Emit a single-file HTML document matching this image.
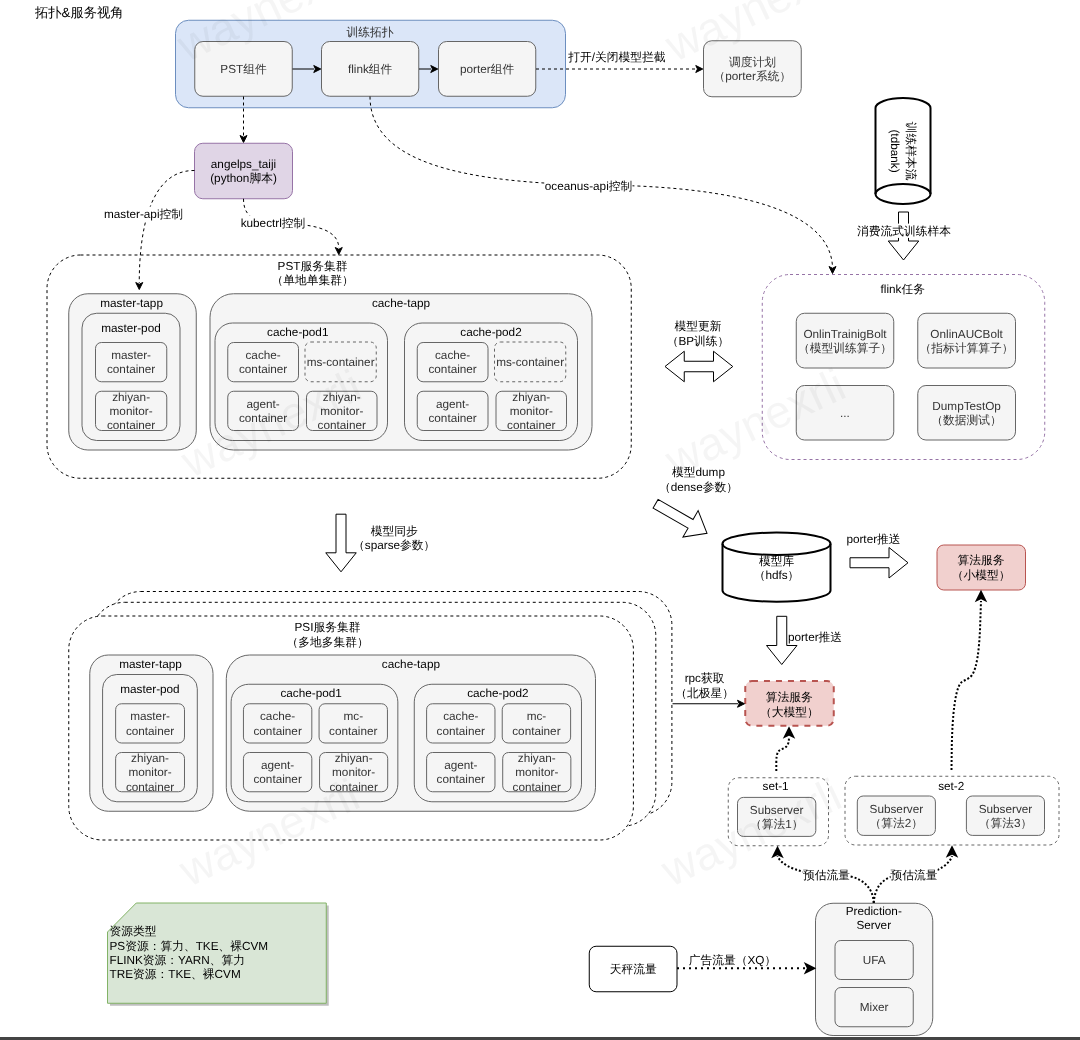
<!DOCTYPE html>
<html lang="zh">
<head>
<meta charset="utf-8">
<title>拓扑&amp;服务视角</title>
<style>
html,body{margin:0;padding:0;background:#ffffff;}
body{width:1080px;height:1040px;overflow:hidden;font-family:"Liberation Sans",sans-serif;}
svg{display:block;font-family:"Liberation Sans",sans-serif;will-change:transform;}
svg text{white-space:pre;text-rendering:geometricPrecision;}
</style>
</head>
<body>
<svg width="1080" height="1040" viewBox="0 0 1080 1040">
<text x="35" y="17" font-size="13.3" fill="#000">拓扑&amp;服务视角</text>
<rect x="175.50" y="20.25" width="390.00" height="87.50" rx="13.12" ry="13.12" fill="#dbe6f8" stroke="#6c8ebf" stroke-width="1"/>
<text x="370.00" y="35.67" font-size="11.75" fill="#333" text-anchor="middle">训练拓扑</text>
<rect x="194.75" y="41.50" width="97.50" height="54.75" rx="8.21" ry="8.21" fill="#f5f5f5" stroke="#666666" stroke-width="1"/>
<text x="243.50" y="73.05" font-size="11.75" fill="#333333" text-anchor="middle">PST组件</text>
<rect x="321.50" y="41.50" width="97.25" height="54.75" rx="8.21" ry="8.21" fill="#f5f5f5" stroke="#666666" stroke-width="1"/>
<text x="370.12" y="73.05" font-size="11.75" fill="#333333" text-anchor="middle">flink组件</text>
<rect x="438.50" y="41.50" width="97.25" height="54.75" rx="8.21" ry="8.21" fill="#f5f5f5" stroke="#666666" stroke-width="1"/>
<text x="487.12" y="73.05" font-size="11.75" fill="#333333" text-anchor="middle">porter组件</text>
<rect x="703.50" y="40.75" width="97.75" height="56.00" rx="8.40" ry="8.40" fill="#f5f5f5" stroke="#666666" stroke-width="1"/>
<text x="752.38" y="65.77" font-size="11.75" fill="#333333" text-anchor="middle">调度计划</text>
<text x="752.38" y="80.07" font-size="11.75" fill="#333333" text-anchor="middle">（porter系统）</text>
<path d="M292.5,69 L314,69" fill="none" stroke="#000" stroke-width="1"/>
<path d="M320.75,69.00 L313.75,72.50 L315.50,69.00 L313.75,65.50 Z" fill="#000" stroke="#000" stroke-width="1" stroke-linejoin="miter"/>
<path d="M419,69 L431,69" fill="none" stroke="#000" stroke-width="1"/>
<path d="M437.75,69.00 L430.75,72.50 L432.50,69.00 L430.75,65.50 Z" fill="#000" stroke="#000" stroke-width="1" stroke-linejoin="miter"/>
<path d="M536,69 L696,69" fill="none" stroke="#000" stroke-width="1" stroke-dasharray="3 3"/>
<path d="M702.75,69.00 L695.75,72.50 L697.50,69.00 L695.75,65.50 Z" fill="#000" stroke="#000" stroke-width="1" stroke-linejoin="miter"/>
<text x="617.00" y="61.17" font-size="11.75" fill="#000" text-anchor="middle">打开/关闭模型拦截</text>
<path d="M243.5,96.5 L243.5,136" fill="none" stroke="#000" stroke-width="1" stroke-dasharray="3 3"/>
<path d="M243.50,142.50 L240.00,135.50 L243.50,137.25 L247.00,135.50 Z" fill="#000" stroke="#000" stroke-width="1" stroke-linejoin="miter"/>
<rect x="194.50" y="143.25" width="98.00" height="55.50" rx="8.32" ry="8.32" fill="#e0d5e6" stroke="#9673a6" stroke-width="1"/>
<text x="243.50" y="168.02" font-size="11.75" fill="#000" text-anchor="middle">angelps_taiji</text>
<text x="243.50" y="182.32" font-size="11.75" fill="#000" text-anchor="middle">(python脚本)</text>
<path d="M194.5,170.5 C150,170 139.25,230 139.25,283" fill="none" stroke="#000" stroke-width="1" stroke-dasharray="3 3"/>
<path d="M139.25,289.50 L135.75,282.50 L139.25,284.25 L142.75,282.50 Z" fill="#000" stroke="#000" stroke-width="1" stroke-linejoin="miter"/>
<rect x="104.00" y="206.65" width="79.00" height="14.30" fill="#ffffff"/>
<text x="143.50" y="217.97" font-size="11.75" fill="#000" text-anchor="middle">master-api控制</text>
<path d="M243.5,198.75 C243.5,222 262,223 291,224 C320,225 338.75,232 338.75,248" fill="none" stroke="#000" stroke-width="1" stroke-dasharray="3 3"/>
<path d="M338.75,254.50 L335.25,247.50 L338.75,249.25 L342.25,247.50 Z" fill="#000" stroke="#000" stroke-width="1" stroke-linejoin="miter"/>
<rect x="241.00" y="215.35" width="64.00" height="14.30" fill="#ffffff"/>
<text x="273.00" y="226.67" font-size="11.75" fill="#000" text-anchor="middle">kubectrl控制</text>
<path d="M370,96.5 C370,165 470,182 590,185 C700,185 830,200 832.5,267" fill="none" stroke="#000" stroke-width="1" stroke-dasharray="3 3"/>
<path d="M832.50,273.50 L829.00,266.50 L832.50,268.25 L836.00,266.50 Z" fill="#000" stroke="#000" stroke-width="1" stroke-linejoin="miter"/>
<rect x="544.50" y="179.10" width="88.00" height="14.30" fill="#ffffff"/>
<text x="588.50" y="190.42" font-size="11.75" fill="#000" text-anchor="middle">oceanus-api控制</text>
<path d="M875.5,108 A27.5,10 0 0 1 930.5,108 L930.5,194 A27.5,10 0 0 1 875.5,194 Z" fill="#fff" stroke="#000" stroke-width="2"/>
<path d="M875.5,194 A27.5,10 0 0 1 930.5,194" fill="none" stroke="#000" stroke-width="2"/>
<text font-size="11.75" fill="#000" text-anchor="middle" transform="translate(906.5,151) rotate(90)" x="0" y="0">训练样本流</text>
<text font-size="11.75" fill="#000" text-anchor="middle" transform="translate(890.5,151) rotate(90)" x="0" y="0">(tdbank)</text>
<path d="M-24.00,-5.00 L5.00,-5.00 L5.00,-15.25 L24.00,0.00 L5.00,15.25 L5.00,5.00 L-24.00,5.00 Z" transform="translate(903.50,236.00) rotate(90)" fill="#fff" stroke="#000" stroke-width="1" stroke-linejoin="miter"/>
<rect x="857.50" y="223.60" width="93.00" height="14.30" fill="#ffffff"/>
<text x="904.00" y="234.92" font-size="11.75" fill="#000" text-anchor="middle">消费流式训练样本</text>
<rect x="762.25" y="274.50" width="282.50" height="185.00" rx="27.75" ry="27.75" fill="#fff" stroke="#9673a6" stroke-width="1" stroke-dasharray="3 3"/>
<text x="902.75" y="293.42" font-size="11.75" fill="#000" text-anchor="middle">flink任务</text>
<rect x="796.25" y="313.25" width="97.50" height="54.75" rx="8.21" ry="8.21" fill="#f5f5f5" stroke="#666666" stroke-width="1"/>
<text x="845.00" y="337.65" font-size="11.75" fill="#333333" text-anchor="middle">OnlinTrainigBolt</text>
<text x="845.00" y="351.95" font-size="11.75" fill="#333333" text-anchor="middle">（模型训练算子）</text>
<rect x="917.75" y="313.25" width="97.75" height="54.75" rx="8.21" ry="8.21" fill="#f5f5f5" stroke="#666666" stroke-width="1"/>
<text x="966.62" y="337.65" font-size="11.75" fill="#333333" text-anchor="middle">OnlinAUCBolt</text>
<text x="966.62" y="351.95" font-size="11.75" fill="#333333" text-anchor="middle">（指标计算算子）</text>
<rect x="796.25" y="385.50" width="97.50" height="54.50" rx="8.17" ry="8.17" fill="#f5f5f5" stroke="#666666" stroke-width="1"/>
<text x="845.00" y="416.92" font-size="11.75" fill="#333333" text-anchor="middle">...</text>
<rect x="917.75" y="385.50" width="97.75" height="54.50" rx="8.17" ry="8.17" fill="#f5f5f5" stroke="#666666" stroke-width="1"/>
<text x="966.62" y="409.77" font-size="11.75" fill="#333333" text-anchor="middle">DumpTestOp</text>
<text x="966.62" y="424.07" font-size="11.75" fill="#333333" text-anchor="middle">（数据测试）</text>
<rect x="47.00" y="255.00" width="584.25" height="223.25" rx="33.49" ry="33.49" fill="none" stroke="#000" stroke-width="1" stroke-dasharray="3 3"/>
<text x="312.50" y="269.82" font-size="11.75" fill="#000" text-anchor="middle">PST服务集群</text>
<text x="312.50" y="284.12" font-size="11.75" fill="#000" text-anchor="middle">（单地单集群）</text>
<rect x="68.75" y="293.75" width="127.50" height="156.25" rx="19.12" ry="19.12" fill="#f5f5f5" stroke="#666666" stroke-width="1"/>
<text x="131.60" y="307.42" font-size="11.75" fill="#000" text-anchor="middle">master-tapp</text>
<rect x="82.00" y="313.25" width="98.00" height="127.25" rx="14.70" ry="14.70" fill="#f5f5f5" stroke="#666666" stroke-width="1"/>
<text x="131.00" y="332.42" font-size="11.75" fill="#000" text-anchor="middle">master-pod</text>
<rect x="95.50" y="342.50" width="71.25" height="39.25" rx="5.89" ry="5.89" fill="#f5f5f5" stroke="#666666" stroke-width="1"/>
<text x="131.12" y="359.15" font-size="11.75" fill="#333333" text-anchor="middle">master-</text>
<text x="131.12" y="373.45" font-size="11.75" fill="#333333" text-anchor="middle">container</text>
<rect x="95.50" y="391.25" width="71.25" height="39.25" rx="5.89" ry="5.89" fill="#f5f5f5" stroke="#666666" stroke-width="1"/>
<text x="131.12" y="400.75" font-size="11.75" fill="#333333" text-anchor="middle">zhiyan-</text>
<text x="131.12" y="415.05" font-size="11.75" fill="#333333" text-anchor="middle">monitor-</text>
<text x="131.12" y="429.35" font-size="11.75" fill="#333333" text-anchor="middle">container</text>
<rect x="210.00" y="293.75" width="382.00" height="156.25" rx="23.44" ry="23.44" fill="#f5f5f5" stroke="#666666" stroke-width="1"/>
<text x="401.00" y="307.42" font-size="11.75" fill="#000" text-anchor="middle">cache-tapp</text>
<rect x="215.00" y="323.00" width="172.50" height="117.50" rx="17.62" ry="17.62" fill="#f5f5f5" stroke="#666666" stroke-width="1"/>
<text x="297.75" y="336.17" font-size="11.75" fill="#000" text-anchor="middle">cache-pod1</text>
<rect x="227.75" y="342.50" width="70.75" height="39.25" rx="5.89" ry="5.89" fill="#f5f5f5" stroke="#666666" stroke-width="1"/>
<text x="263.12" y="359.15" font-size="11.75" fill="#333333" text-anchor="middle">cache-</text>
<text x="263.12" y="373.45" font-size="11.75" fill="#333333" text-anchor="middle">container</text>
<rect x="227.75" y="391.25" width="70.75" height="39.25" rx="5.89" ry="5.89" fill="#f5f5f5" stroke="#666666" stroke-width="1"/>
<text x="263.12" y="407.90" font-size="11.75" fill="#333333" text-anchor="middle">agent-</text>
<text x="263.12" y="422.20" font-size="11.75" fill="#333333" text-anchor="middle">container</text>
<rect x="305.00" y="342.00" width="71.25" height="39.75" rx="5.96" ry="5.96" fill="#f5f5f5" stroke="#666666" stroke-width="1" stroke-dasharray="3 3"/>
<text x="340.62" y="366.05" font-size="11.75" fill="#333333" text-anchor="middle">ms-container</text>
<rect x="306.50" y="391.25" width="70.50" height="39.25" rx="5.89" ry="5.89" fill="#f5f5f5" stroke="#666666" stroke-width="1"/>
<text x="341.75" y="400.75" font-size="11.75" fill="#333333" text-anchor="middle">zhiyan-</text>
<text x="341.75" y="415.05" font-size="11.75" fill="#333333" text-anchor="middle">monitor-</text>
<text x="341.75" y="429.35" font-size="11.75" fill="#333333" text-anchor="middle">container</text>
<rect x="404.50" y="323.00" width="173.00" height="117.50" rx="17.62" ry="17.62" fill="#f5f5f5" stroke="#666666" stroke-width="1"/>
<text x="491.00" y="336.17" font-size="11.75" fill="#000" text-anchor="middle">cache-pod2</text>
<rect x="417.25" y="342.50" width="70.75" height="39.25" rx="5.89" ry="5.89" fill="#f5f5f5" stroke="#666666" stroke-width="1"/>
<text x="452.62" y="359.15" font-size="11.75" fill="#333333" text-anchor="middle">cache-</text>
<text x="452.62" y="373.45" font-size="11.75" fill="#333333" text-anchor="middle">container</text>
<rect x="417.25" y="391.25" width="70.75" height="39.25" rx="5.89" ry="5.89" fill="#f5f5f5" stroke="#666666" stroke-width="1"/>
<text x="452.62" y="407.90" font-size="11.75" fill="#333333" text-anchor="middle">agent-</text>
<text x="452.62" y="422.20" font-size="11.75" fill="#333333" text-anchor="middle">container</text>
<rect x="494.50" y="342.00" width="71.25" height="39.75" rx="5.96" ry="5.96" fill="#f5f5f5" stroke="#666666" stroke-width="1" stroke-dasharray="3 3"/>
<text x="530.12" y="366.05" font-size="11.75" fill="#333333" text-anchor="middle">ms-container</text>
<rect x="496.00" y="391.25" width="70.50" height="39.25" rx="5.89" ry="5.89" fill="#f5f5f5" stroke="#666666" stroke-width="1"/>
<text x="531.25" y="400.75" font-size="11.75" fill="#333333" text-anchor="middle">zhiyan-</text>
<text x="531.25" y="415.05" font-size="11.75" fill="#333333" text-anchor="middle">monitor-</text>
<text x="531.25" y="429.35" font-size="11.75" fill="#333333" text-anchor="middle">container</text>
<path d="M665,366.5 L684.25,351.25 L684.25,361.25 L713.5,361.25 L713.5,351.25 L732.75,366.5 L713.5,381.75 L713.5,371.75 L684.25,371.75 L684.25,381.75 Z" fill="#fff" stroke="#000" stroke-width="1"/>
<text x="698.00" y="330.22" font-size="11.75" fill="#000" text-anchor="middle">模型更新</text>
<text x="698.00" y="344.52" font-size="11.75" fill="#000" text-anchor="middle">（BP训练）</text>
<text x="698.50" y="476.32" font-size="11.75" fill="#000" text-anchor="middle">模型dump</text>
<text x="698.50" y="490.62" font-size="11.75" fill="#000" text-anchor="middle">（dense参数）</text>
<path d="M-29.65,-5.00 L10.65,-5.00 L10.65,-15.25 L29.65,0.00 L10.65,15.25 L10.65,5.00 L-29.65,5.00 Z" transform="translate(681.30,518.50) rotate(29.85)" fill="#fff" stroke="#000" stroke-width="1" stroke-linejoin="miter"/>
<path d="M-28.80,-5.00 L9.80,-5.00 L9.80,-15.25 L28.80,0.00 L9.80,15.25 L9.80,5.00 L-28.80,5.00 Z" transform="translate(341.00,543.00) rotate(90)" fill="#fff" stroke="#000" stroke-width="1" stroke-linejoin="miter"/>
<text x="394.20" y="534.92" font-size="11.75" fill="#000" text-anchor="middle">模型同步</text>
<text x="394.20" y="549.22" font-size="11.75" fill="#000" text-anchor="middle">（sparse参数）</text>
<rect x="107.25" y="591.50" width="564.65" height="224.00" rx="33.60" ry="33.60" fill="#fff" stroke="#000" stroke-width="1" stroke-dasharray="3 3"/>
<rect x="91.15" y="602.30" width="564.65" height="224.00" rx="33.60" ry="33.60" fill="#fff" stroke="#000" stroke-width="1" stroke-dasharray="3 3"/>
<rect x="68.75" y="616.00" width="564.65" height="224.00" rx="33.60" ry="33.60" fill="#fff" stroke="#000" stroke-width="1" stroke-dasharray="3 3"/>
<text x="327.50" y="631.22" font-size="11.75" fill="#000" text-anchor="middle">PSI服务集群</text>
<text x="327.50" y="645.52" font-size="11.75" fill="#000" text-anchor="middle">（多地多集群）</text>
<rect x="89.77" y="655.00" width="123.23" height="156.25" rx="18.48" ry="18.48" fill="#f5f5f5" stroke="#666666" stroke-width="1"/>
<text x="150.52" y="667.67" font-size="11.75" fill="#000" text-anchor="middle">master-tapp</text>
<rect x="102.58" y="674.50" width="94.72" height="127.25" rx="14.21" ry="14.21" fill="#f5f5f5" stroke="#666666" stroke-width="1"/>
<text x="149.94" y="692.67" font-size="11.75" fill="#000" text-anchor="middle">master-pod</text>
<rect x="115.63" y="703.75" width="68.86" height="39.25" rx="5.89" ry="5.89" fill="#f5f5f5" stroke="#666666" stroke-width="1"/>
<text x="150.06" y="720.40" font-size="11.75" fill="#333333" text-anchor="middle">master-</text>
<text x="150.06" y="734.70" font-size="11.75" fill="#333333" text-anchor="middle">container</text>
<rect x="115.63" y="752.50" width="68.86" height="39.25" rx="5.89" ry="5.89" fill="#f5f5f5" stroke="#666666" stroke-width="1"/>
<text x="150.06" y="762.00" font-size="11.75" fill="#333333" text-anchor="middle">zhiyan-</text>
<text x="150.06" y="776.30" font-size="11.75" fill="#333333" text-anchor="middle">monitor-</text>
<text x="150.06" y="790.60" font-size="11.75" fill="#333333" text-anchor="middle">container</text>
<rect x="226.29" y="655.00" width="369.20" height="156.25" rx="23.44" ry="23.44" fill="#f5f5f5" stroke="#666666" stroke-width="1"/>
<text x="410.89" y="667.67" font-size="11.75" fill="#000" text-anchor="middle">cache-tapp</text>
<rect x="231.12" y="684.25" width="166.72" height="117.50" rx="17.62" ry="17.62" fill="#f5f5f5" stroke="#666666" stroke-width="1"/>
<text x="311.10" y="697.42" font-size="11.75" fill="#000" text-anchor="middle">cache-pod1</text>
<rect x="243.44" y="703.75" width="68.38" height="39.25" rx="5.89" ry="5.89" fill="#f5f5f5" stroke="#666666" stroke-width="1"/>
<text x="277.63" y="720.40" font-size="11.75" fill="#333333" text-anchor="middle">cache-</text>
<text x="277.63" y="734.70" font-size="11.75" fill="#333333" text-anchor="middle">container</text>
<rect x="243.44" y="752.50" width="68.38" height="39.25" rx="5.89" ry="5.89" fill="#f5f5f5" stroke="#666666" stroke-width="1"/>
<text x="277.63" y="769.15" font-size="11.75" fill="#333333" text-anchor="middle">agent-</text>
<text x="277.63" y="783.45" font-size="11.75" fill="#333333" text-anchor="middle">container</text>
<rect x="319.07" y="703.75" width="68.38" height="39.25" rx="5.89" ry="5.89" fill="#f5f5f5" stroke="#666666" stroke-width="1"/>
<text x="353.26" y="720.40" font-size="11.75" fill="#333333" text-anchor="middle">mc-</text>
<text x="353.26" y="734.70" font-size="11.75" fill="#333333" text-anchor="middle">container</text>
<rect x="319.56" y="752.50" width="68.14" height="39.25" rx="5.89" ry="5.89" fill="#f5f5f5" stroke="#666666" stroke-width="1"/>
<text x="353.63" y="762.00" font-size="11.75" fill="#333333" text-anchor="middle">zhiyan-</text>
<text x="353.63" y="776.30" font-size="11.75" fill="#333333" text-anchor="middle">monitor-</text>
<text x="353.63" y="790.60" font-size="11.75" fill="#333333" text-anchor="middle">container</text>
<rect x="414.27" y="684.25" width="167.20" height="117.50" rx="17.62" ry="17.62" fill="#f5f5f5" stroke="#666666" stroke-width="1"/>
<text x="497.88" y="697.42" font-size="11.75" fill="#000" text-anchor="middle">cache-pod2</text>
<rect x="426.60" y="703.75" width="68.38" height="39.25" rx="5.89" ry="5.89" fill="#f5f5f5" stroke="#666666" stroke-width="1"/>
<text x="460.79" y="720.40" font-size="11.75" fill="#333333" text-anchor="middle">cache-</text>
<text x="460.79" y="734.70" font-size="11.75" fill="#333333" text-anchor="middle">container</text>
<rect x="426.60" y="752.50" width="68.38" height="39.25" rx="5.89" ry="5.89" fill="#f5f5f5" stroke="#666666" stroke-width="1"/>
<text x="460.79" y="769.15" font-size="11.75" fill="#333333" text-anchor="middle">agent-</text>
<text x="460.79" y="783.45" font-size="11.75" fill="#333333" text-anchor="middle">container</text>
<rect x="502.23" y="703.75" width="68.38" height="39.25" rx="5.89" ry="5.89" fill="#f5f5f5" stroke="#666666" stroke-width="1"/>
<text x="536.42" y="720.40" font-size="11.75" fill="#333333" text-anchor="middle">mc-</text>
<text x="536.42" y="734.70" font-size="11.75" fill="#333333" text-anchor="middle">container</text>
<rect x="502.71" y="752.50" width="68.14" height="39.25" rx="5.89" ry="5.89" fill="#f5f5f5" stroke="#666666" stroke-width="1"/>
<text x="536.78" y="762.00" font-size="11.75" fill="#333333" text-anchor="middle">zhiyan-</text>
<text x="536.78" y="776.30" font-size="11.75" fill="#333333" text-anchor="middle">monitor-</text>
<text x="536.78" y="790.60" font-size="11.75" fill="#333333" text-anchor="middle">container</text>
<path d="M722.5,543.75 A54.0,11.25 0 0 1 830.5,543.75 L830.5,590.5 A54.0,11.25 0 0 1 722.5,590.5 Z" fill="#fff" stroke="#000" stroke-width="2"/>
<path d="M722.5,543.75 A54,11.25 0 0 0 830.5,543.75" fill="none" stroke="#000" stroke-width="2"/>
<text x="776.50" y="564.52" font-size="11.75" fill="#000" text-anchor="middle">模型库</text>
<text x="776.50" y="578.82" font-size="11.75" fill="#000" text-anchor="middle">（hdfs）</text>
<path d="M-29.00,-5.00 L10.00,-5.00 L10.00,-15.25 L29.00,0.00 L10.00,15.25 L10.00,5.00 L-29.00,5.00 Z" transform="translate(879.00,562.75) rotate(0)" fill="#fff" stroke="#000" stroke-width="1" stroke-linejoin="miter"/>
<text x="873.50" y="543.42" font-size="11.75" fill="#000" text-anchor="middle">porter推送</text>
<path d="M-24.10,-5.00 L5.10,-5.00 L5.10,-15.25 L24.10,0.00 L5.10,15.25 L5.10,5.00 L-24.10,5.00 Z" transform="translate(781.75,640.40) rotate(90)" fill="#fff" stroke="#000" stroke-width="1" stroke-linejoin="miter"/>
<rect x="788.50" y="629.60" width="53.00" height="14.30" fill="#ffffff"/>
<text x="815.00" y="640.92" font-size="11.75" fill="#000" text-anchor="middle">porter推送</text>
<rect x="937.00" y="545.00" width="88.50" height="45.00" rx="6.75" ry="6.75" fill="#f1d0ce" stroke="#b85450" stroke-width="1"/>
<text x="981.00" y="564.32" font-size="11.75" fill="#000" text-anchor="middle">算法服务</text>
<text x="981.00" y="578.62" font-size="11.75" fill="#000" text-anchor="middle">（小模型）</text>
<rect x="745.25" y="681.00" width="88.50" height="44.75" rx="6.71" ry="6.71" fill="#f1d0ce" stroke="#b85450" stroke-width="2" stroke-dasharray="6 6"/>
<text x="789.25" y="701.22" font-size="11.75" fill="#000" text-anchor="middle">算法服务</text>
<text x="789.25" y="715.52" font-size="11.75" fill="#000" text-anchor="middle">（大模型）</text>
<path d="M672.5,703.75 L738,703.75" fill="none" stroke="#000" stroke-width="1"/>
<path d="M744.50,703.75 L737.50,707.25 L739.25,703.75 L737.50,700.25 Z" fill="#000" stroke="#000" stroke-width="1" stroke-linejoin="miter"/>
<text x="704.60" y="682.22" font-size="11.75" fill="#000" text-anchor="middle">rpc获取</text>
<text x="704.60" y="696.52" font-size="11.75" fill="#000" text-anchor="middle">（北极星）</text>
<rect x="728.25" y="777.75" width="100.25" height="68.00" rx="10.20" ry="10.20" fill="#fff" stroke="#666" stroke-width="1" stroke-dasharray="3 3"/>
<text x="775.60" y="790.47" font-size="11.75" fill="#000" text-anchor="middle">set-1</text>
<rect x="737.50" y="797.40" width="78.30" height="39.00" rx="5.85" ry="5.85" fill="#f5f5f5" stroke="#666666" stroke-width="1"/>
<text x="776.65" y="813.92" font-size="11.75" fill="#333333" text-anchor="middle">Subserver</text>
<text x="776.65" y="828.22" font-size="11.75" fill="#333333" text-anchor="middle">（算法1）</text>
<rect x="845.00" y="776.25" width="214.00" height="68.75" rx="10.31" ry="10.31" fill="#fff" stroke="#666" stroke-width="1" stroke-dasharray="3 3"/>
<text x="951.20" y="789.57" font-size="11.75" fill="#000" text-anchor="middle">set-2</text>
<rect x="857.30" y="796.00" width="78.10" height="39.40" rx="5.91" ry="5.91" fill="#f5f5f5" stroke="#666666" stroke-width="1"/>
<text x="896.35" y="812.72" font-size="11.75" fill="#333333" text-anchor="middle">Subserver</text>
<text x="896.35" y="827.02" font-size="11.75" fill="#333333" text-anchor="middle">（算法2）</text>
<rect x="966.40" y="796.00" width="78.10" height="39.40" rx="5.91" ry="5.91" fill="#f5f5f5" stroke="#666666" stroke-width="1"/>
<text x="1005.45" y="812.72" font-size="11.75" fill="#333333" text-anchor="middle">Subserver</text>
<text x="1005.45" y="827.02" font-size="11.75" fill="#333333" text-anchor="middle">（算法3）</text>
<path d="M776.3,771 L776.3,762 C776.3,752 779,750 782,749 C786,747.5 789,746 789,737" fill="none" stroke="#000" stroke-width="2" stroke-dasharray="2 2"/>
<path d="M789.00,728.50 L793.00,736.50 L789.00,734.50 L785.00,736.50 Z" fill="#000" stroke="#000" stroke-width="2" stroke-linejoin="miter"/>
<path d="M951.5,770 L951.8,745 C952.5,715 955,692 960,684 C963,679.5 968,680.5 972,675 C977,668 979,650 980,630 L981,601" fill="none" stroke="#000" stroke-width="2" stroke-dasharray="2 2"/>
<path d="M981.00,592.00 L985.00,600.00 L981.00,598.00 L977.00,600.00 Z" fill="#000" stroke="#000" stroke-width="2" stroke-linejoin="miter"/>
<rect x="815.50" y="903.25" width="117.25" height="132.25" rx="17.59" ry="17.59" fill="#f5f5f5" stroke="#666666" stroke-width="1"/>
<text x="873.75" y="915.12" font-size="11.75" fill="#000" text-anchor="middle">Prediction-</text>
<text x="873.75" y="929.42" font-size="11.75" fill="#000" text-anchor="middle">Server</text>
<rect x="835.00" y="940.50" width="78.25" height="39.00" rx="5.85" ry="5.85" fill="#f5f5f5" stroke="#666666" stroke-width="1"/>
<text x="874.12" y="964.17" font-size="11.75" fill="#333333" text-anchor="middle">UFA</text>
<rect x="835.00" y="987.50" width="78.25" height="39.25" rx="5.89" ry="5.89" fill="#f5f5f5" stroke="#666666" stroke-width="1"/>
<text x="874.12" y="1011.30" font-size="11.75" fill="#333333" text-anchor="middle">Mixer</text>
<path d="M873.75,903 C873,889 865,880 850,876.3 L805,872.2 C791,869 780,863 777.5,856" fill="none" stroke="#000" stroke-width="2" stroke-dasharray="2 2"/>
<path d="M777.50,848.00 L781.50,856.00 L777.50,854.00 L773.50,856.00 Z" fill="#000" stroke="#000" stroke-width="2" stroke-linejoin="miter"/>
<path d="M873.75,903 C874.5,889 881,880 892,876.6 L937,870.3 C946,866 951,860 952,856" fill="none" stroke="#000" stroke-width="2" stroke-dasharray="2 2"/>
<path d="M952.00,847.50 L956.00,855.50 L952.00,853.50 L948.00,855.50 Z" fill="#000" stroke="#000" stroke-width="2" stroke-linejoin="miter"/>
<rect x="803.10" y="867.75" width="47.00" height="14.30" fill="#ffffff"/>
<text x="826.60" y="879.07" font-size="11.75" fill="#000" text-anchor="middle">预估流量</text>
<rect x="890.60" y="867.75" width="47.00" height="14.30" fill="#ffffff"/>
<text x="914.10" y="879.07" font-size="11.75" fill="#000" text-anchor="middle">预估流量</text>
<rect x="589.25" y="946.25" width="87.75" height="45.50" rx="6.83" ry="6.83" fill="#fff" stroke="#000" stroke-width="1"/>
<text x="633.25" y="973.37" font-size="11.75" fill="#000" text-anchor="middle">天秤流量</text>
<path d="M677,968.25 L805,968.25" fill="none" stroke="#000" stroke-width="2" stroke-dasharray="2 4"/>
<path d="M814.00,968.25 L806.00,972.25 L808.00,968.25 L806.00,964.25 Z" fill="#000" stroke="#000" stroke-width="2" stroke-linejoin="miter"/>
<text x="732.50" y="964.17" font-size="11.75" fill="#000" text-anchor="middle">广告流量（XQ）</text>
<path d="M138.75,905.5 L328.75,905.5 L328.75,1005.75 L110,1005.75 L110,934.5 Z" fill="#000" fill-opacity="0.25"/>
<path d="M136.25,903 L326.25,903 L326.25,1003.25 L107.5,1003.25 L107.5,932 Z" fill="#d9e6d6" stroke="#82b366" stroke-width="1"/>
<text x="109.50" y="935.42" font-size="11.75" fill="#000" text-anchor="start">资源类型</text>
<text x="109.50" y="949.75" font-size="11.75" fill="#000" text-anchor="start">PS资源：算力、TKE、裸CVM</text>
<text x="109.50" y="964.08" font-size="11.75" fill="#000" text-anchor="start">FLINK资源：YARN、算力</text>
<text x="109.50" y="978.41" font-size="11.75" fill="#000" text-anchor="start">TRE资源：TKE、裸CVM</text>
<text x="268" y="23" font-size="46" fill="#000" fill-opacity="0.04" text-anchor="middle" transform="rotate(-25 268 9)">waynexrli</text>
<text x="756" y="23" font-size="46" fill="#000" fill-opacity="0.04" text-anchor="middle" transform="rotate(-25 756 9)">waynexrli</text>
<text x="272" y="439" font-size="46" fill="#000" fill-opacity="0.04" text-anchor="middle" transform="rotate(-25 272 425)">waynexrli</text>
<text x="756" y="438" font-size="46" fill="#000" fill-opacity="0.04" text-anchor="middle" transform="rotate(-25 756 424)">waynexrli</text>
<text x="270" y="848" font-size="46" fill="#000" fill-opacity="0.04" text-anchor="middle" transform="rotate(-25 270 834)">waynexrli</text>
<text x="752" y="848" font-size="46" fill="#000" fill-opacity="0.04" text-anchor="middle" transform="rotate(-25 752 834)">waynexrli</text>
<rect x="0" y="1037" width="1080" height="3" fill="#444"/>
</svg>
</body>
</html>
